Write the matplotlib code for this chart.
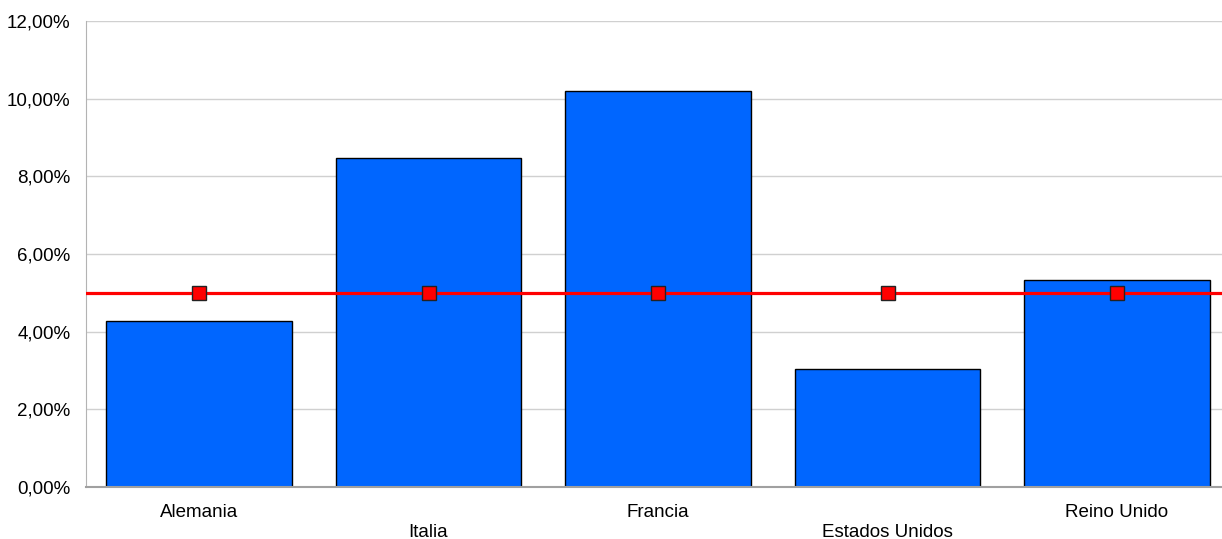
import matplotlib
matplotlib.use('Agg')
import matplotlib.pyplot as plt
from matplotlib.ticker import FuncFormatter

plt.rcParams['font.family'] = ['Liberation Sans', 'DejaVu Sans']

countries = ['Alemania', 'Italia', 'Francia', 'Estados Unidos', 'Reino Unido']
values = [4.27, 8.47, 10.20, 3.03, 5.33]
target = [5.0, 5.0, 5.0, 5.0, 5.0]
y_ticks = [0, 2, 4, 6, 8, 10, 12]

fig = plt.figure(figsize=(12.22, 5.39), dpi=100)
ax = fig.add_axes([86 / 1222, 52 / 539, 1147.5 / 1222, 466 / 539])

x = list(range(len(countries)))
ax.bar(x, values, width=0.81, color='#0066ff', edgecolor='black', linewidth=1, zorder=2)
ax.axhline(target[0], color='#ff0000', linewidth=2.3, zorder=3)
ax.plot(x, target, linestyle='none', marker='s', markersize=10,
        markerfacecolor='#ff0000', markeredgecolor='#222222', markeredgewidth=1, zorder=4)

ax.set_xlim(-0.4924, len(countries) - 0.4924)
ax.set_ylim(0, 12)
ax.set_yticks(y_ticks)
ax.yaxis.set_major_formatter(FuncFormatter(lambda v, p: f'{v:.2f}'.replace('.', ',') + '%'))
ax.grid(axis='y', color='#d0d0d0', linewidth=1, zorder=0)
ax.set_axisbelow(True)

ax.set_xticks(x)
ax.set_xticklabels([c if i % 2 == 0 else '\n' + c for i, c in enumerate(countries)],
                   linespacing=1.25)
ax.tick_params(axis='both', length=0, labelsize=13.5, colors='black')
ax.tick_params(axis='x', pad=12)
ax.tick_params(axis='y', pad=11)

for s in ['top', 'right']:
    ax.spines[s].set_visible(False)
ax.spines['left'].set_color('#b3b3b3')
ax.spines['bottom'].set_color('#a0a0a0')
ax.spines['bottom'].set_linewidth(1.5)

fig.savefig('out.png', dpi=100)
